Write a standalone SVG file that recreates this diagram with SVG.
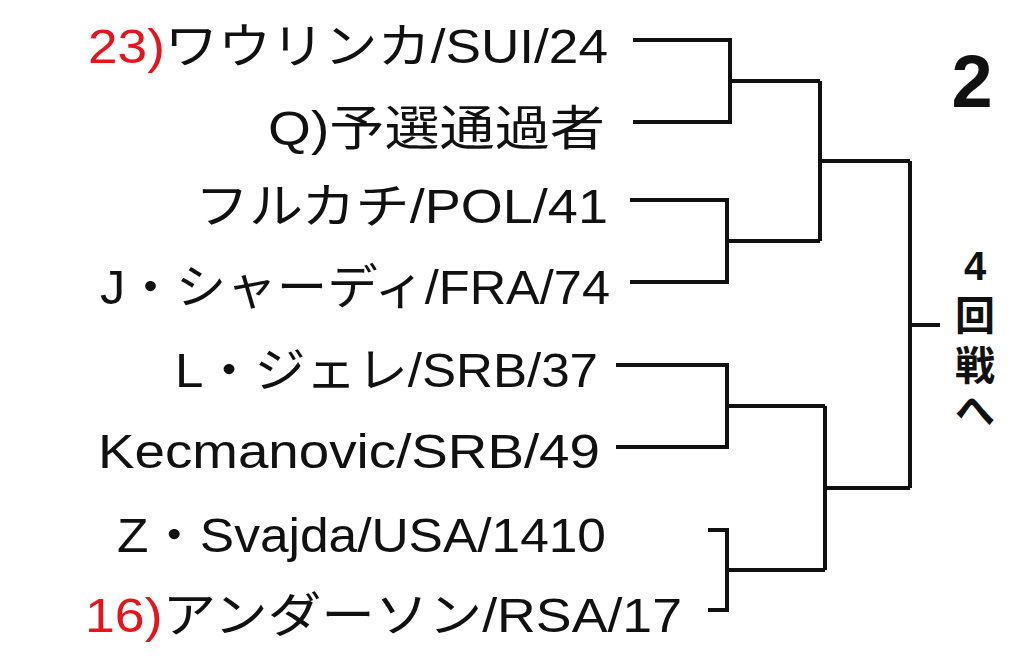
<svg xmlns="http://www.w3.org/2000/svg" width="1024" height="669" viewBox="0 0 1024 669">
<style>
.t{font-family:"Liberation Sans","Noto Sans CJK JP",sans-serif;font-size:48px;fill:#111}
.r{fill:#e8141c}
.v{font-family:"Liberation Sans","Noto Sans CJK JP",sans-serif;font-size:40px;font-weight:bold;fill:#111;text-anchor:middle}
.c{fill:none;stroke:#111;stroke-width:4}
</style>
<rect width="1024" height="669" fill="#fff"/>
<g id="p1"><text class="t" x="88" y="63" textLength="520" lengthAdjust="spacingAndGlyphs"><tspan class="r">23)</tspan>ワウリンカ/SUI/24</text></g>
<g id="p2"><text class="t" x="268" y="145" textLength="337" lengthAdjust="spacingAndGlyphs">Q)予選通過者</text></g>
<g id="p3"><text class="t" x="195" y="223" textLength="413" lengthAdjust="spacingAndGlyphs">フルカチ/POL/41</text></g>
<g id="p4"><text class="t" x="100" y="304" textLength="510" lengthAdjust="spacingAndGlyphs">J・シャーディ/FRA/74</text></g>
<g id="p5"><text class="t" x="175" y="387" textLength="423" lengthAdjust="spacingAndGlyphs">L・ジェレ/SRB/37</text></g>
<g id="p6"><text class="t" x="98" y="468" textLength="502" lengthAdjust="spacingAndGlyphs">Kecmanovic/SRB/49</text></g>
<g id="p7"><text class="t" x="117" y="552" textLength="489" lengthAdjust="spacingAndGlyphs">Z・Svajda/USA/1410</text></g>
<g id="p8"><text class="t" x="85" y="632" textLength="597" lengthAdjust="spacingAndGlyphs"><tspan class="r">16)</tspan>アンダーソン/RSA/17</text></g>
<g id="num"><text x="972" y="107" style="font-family:'Liberation Sans',sans-serif;font-size:74px;font-weight:bold;fill:#111" text-anchor="middle">2</text></g>
<g id="next"><text class="v" x="975" y="280">4</text><text class="v" x="975" y="330">回</text><text class="v" x="975" y="380">戦</text><text class="v" x="975" y="425">へ</text></g>
<g id="connectors">
<path class="c" d="M633 40H730V122H633M730 81H820"/>
<path class="c" d="M630 200H727V282H630M727 241H820"/>
<path class="c" d="M820 81V241M820 161H910"/>
<path class="c" d="M616 365H727V447H616M727 406H825"/>
<path class="c" d="M708 530H727V610H708M727 570H825"/>
<path class="c" d="M825 406V570M825 488H910"/>
<path class="c" d="M910 161V488M910 325H940"/>
</g>
</svg>
